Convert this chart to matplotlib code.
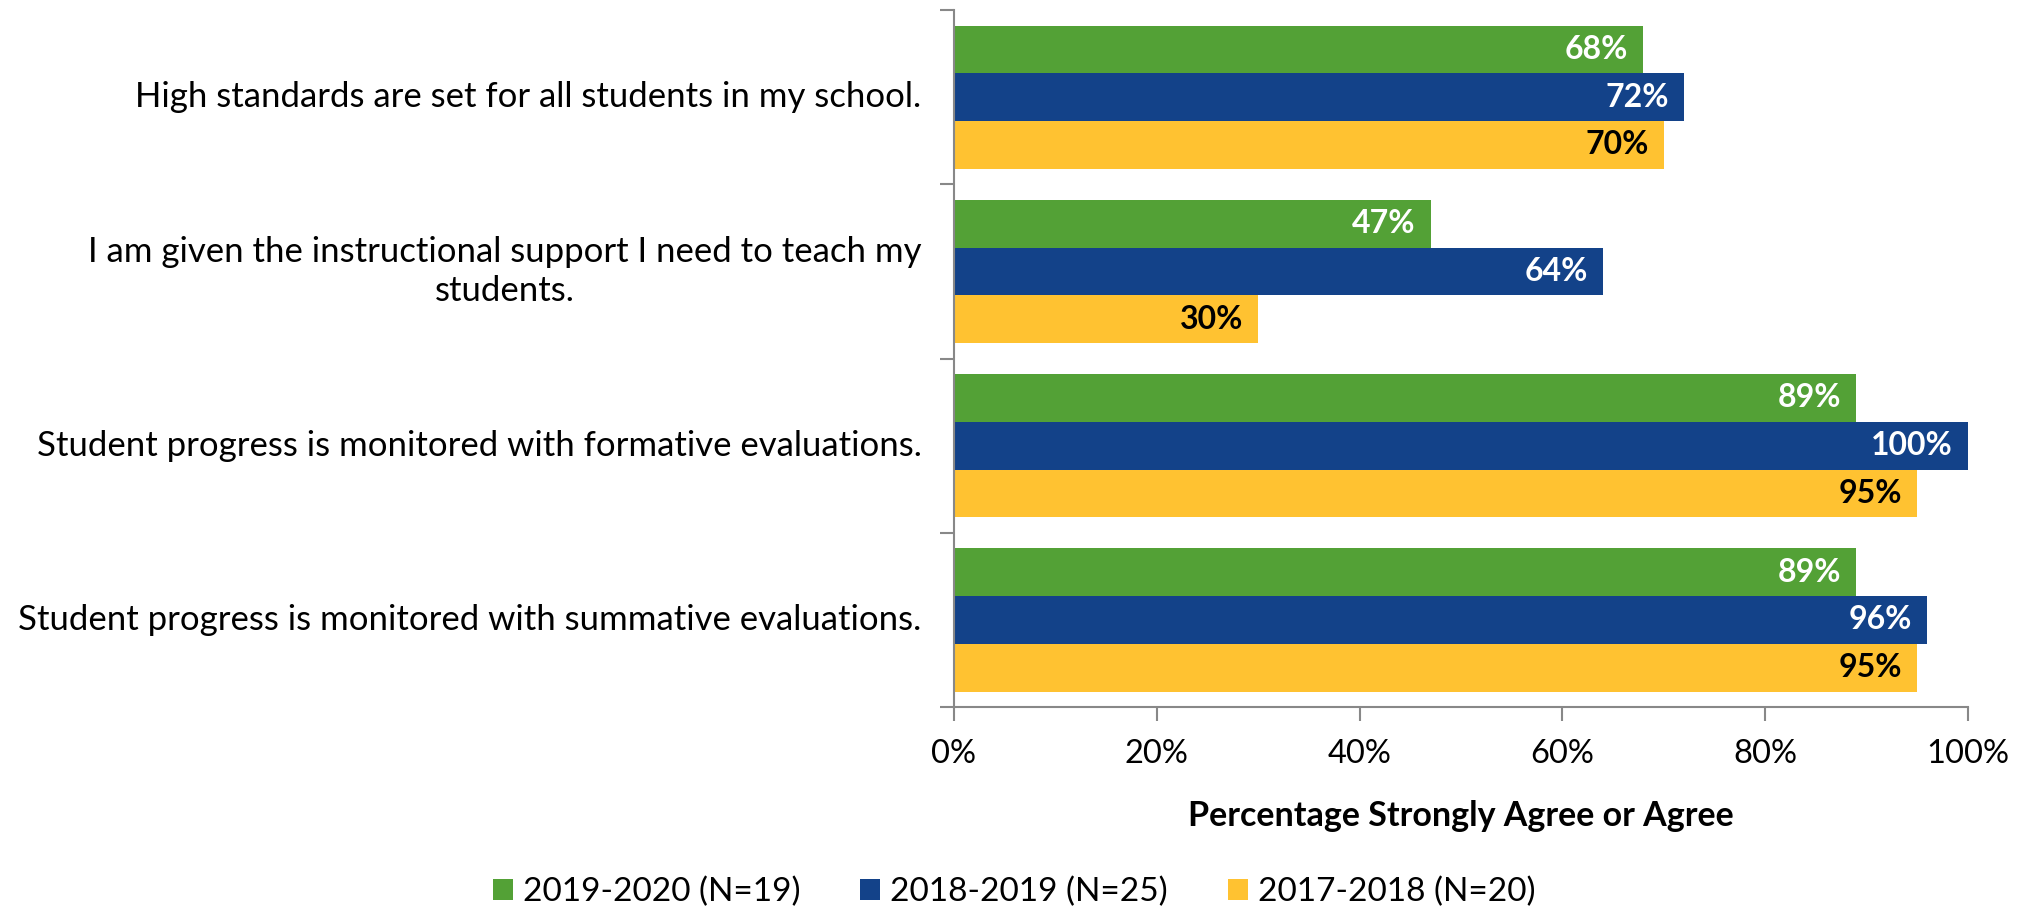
import matplotlib
matplotlib.use("Agg")
import matplotlib.pyplot as plt
import numpy as np
from matplotlib.ticker import FixedLocator, PercentFormatter

plt.rcParams['font.family'] = ['Lato', 'DejaVu Sans']

questions = [
    "High standards are set for all students in my school.",
    "I am given the instructional support I need to teach my\nstudents.",
    "Student progress is monitored with formative evaluations.",
    "Student progress is monitored with summative evaluations.",
]
series = ["2019-2020 (N=19)", "2018-2019 (N=25)", "2017-2018 (N=20)"]
v2019 = [68, 47, 89, 89]
v2018 = [72, 64, 100, 96]
v2017 = [70, 30, 95, 95]

colors = ["#53A136", "#134289", "#FFC231"]
label_colors = ["white", "white", "black"]

fig = plt.figure(figsize=(20.28, 9.10), dpi=100)
ax = fig.add_axes([0.4704, 0.223, 0.5, 0.766])

h = 0.274
y = np.arange(len(questions))
for i, (vals, name) in enumerate(zip([v2019, v2018, v2017], series)):
    pos = y + (i - 1) * h
    bars = ax.barh(pos, vals, height=h, color=colors[i], label=name)
    for b, v in zip(bars, vals):
        ax.text(v - 1.5, b.get_y() + b.get_height() / 2, f"{v}%",
                ha='right', va='center', color=label_colors[i],
                fontsize=23, fontweight='bold')

ax.set_xlim(0, 100)
ax.set_ylim(len(questions) - 0.5, -0.5)
ax.xaxis.set_major_locator(FixedLocator([0, 20, 40, 60, 80, 100]))
ax.xaxis.set_major_formatter(PercentFormatter(decimals=0))
ax.set_yticks(np.arange(-0.5, len(questions), 1.0))
ax.set_yticklabels([])
ax.tick_params(axis='both', length=10, width=1.5, color='#888888', direction='out')
ax.tick_params(axis='x', labelsize=23.5, pad=13)

for q, yy in zip(questions, y):
    ax.text(-0.032, yy, q, transform=ax.get_yaxis_transform(), ha='right', va='center',
            multialignment='center', fontsize=25, linespacing=1.25)

for s in ['top', 'right']:
    ax.spines[s].set_visible(False)
for s in ['left', 'bottom']:
    ax.spines[s].set_color('#888888')
    ax.spines[s].set_linewidth(1.5)

ax.set_xlabel("Percentage Strongly Agree or Agree", fontsize=24.5, fontweight='bold', labelpad=22)

fig.legend(loc='center', bbox_to_anchor=(0.5, 0.02), ncol=3, frameon=False,
           fontsize=24, handlelength=0.6, handleheight=0.6, columnspacing=1.8, handletextpad=0.3)

fig.savefig("out.png", dpi=100)
